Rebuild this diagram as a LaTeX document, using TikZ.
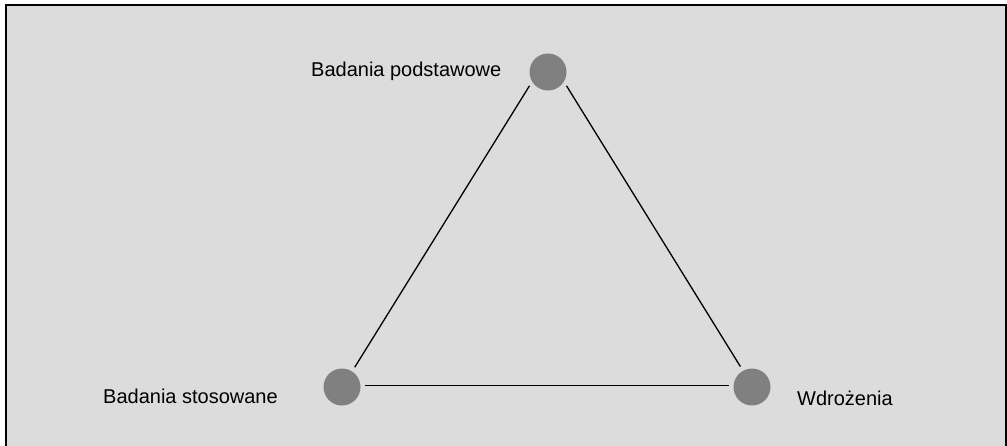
\documentclass[tikz,border=0pt]{standalone}
\usepackage{fontspec}
\setmainfont{Liberation Sans}
\definecolor{panelgray}{HTML}{DCDCDC}
\definecolor{dotgray}{HTML}{808080}
\tikzset{
  dot/.style={circle, fill=dotgray, draw=none, minimum size=37pt, inner sep=0pt, outer sep=0pt},
  lbl/.style={anchor=base west, inner sep=0pt, font=\fontsize{20pt}{24pt}\selectfont},
  edge/.style={draw=black, line width=1.3pt, shorten <=5pt, shorten >=5pt}
}
\begin{document}
\begin{tikzpicture}[x=1pt,y=-1pt]
\useasboundingbox (0,0) rectangle (1007,445);
\clip (0,0) rectangle (1007,445);
\fill[white] (0,0) rectangle (1007,445);
\draw[fill=panelgray, draw=black, line width=2pt] (6,5) rectangle (1005.5,460);
\node[dot] (top) at (548,72) {};
\node[dot] (bl) at (342,387) {};
\node[dot] (br) at (752,387) {};
\path[edge] (top.211) -- (bl.57);
\path[edge] (top.329) -- (br.119);
\path[edge] (bl.4) -- (br.176);
\node[lbl] (ltop) at (311,76) {Badania podstawowe};
\node[lbl] (lbl) at (103,403) {Badania stosowane};
\node[lbl] (lbr) at (797,405) {Wdrożenia};
\end{tikzpicture}
\end{document}
